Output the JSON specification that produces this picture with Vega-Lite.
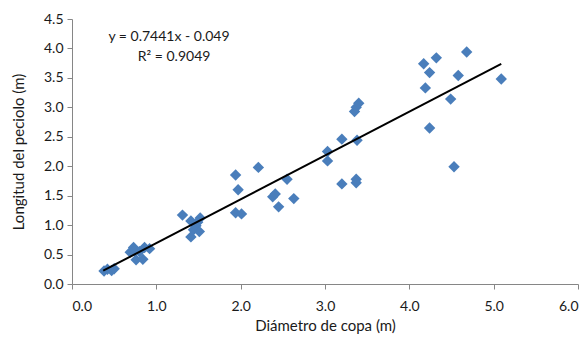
{
  "$schema": "https://vega.github.io/schema/vega-lite/v6.json",
  "width": 580,
  "height": 341,
  "autosize": {"type": "fit", "contains": "padding"},
  "padding": {"left": 11, "top": 12, "right": 1, "bottom": 8},
  "background": "white",
  "config": {
    "view": {"stroke": null},
    "font": "Lato",
    "axis": {
      "domainColor": "#868686",
      "tickColor": "#868686",
      "labelColor": "#1a1a1a",
      "titleColor": "#1a1a1a",
      "labelFont": "Lato",
      "titleFont": "Lato",
      "labelFontSize": 14,
      "titleFontSize": 15,
      "titleFontWeight": "normal",
      "grid": false,
      "tickSize": 5,
      "labelOverlap": false
    }
  },
  "datasets": {
    "pts": [
      {"d": 0.38, "l": 0.22}, {"d": 0.42, "l": 0.25}, {"d": 0.47, "l": 0.23}, {"d": 0.50, "l": 0.26},
      {"d": 0.69, "l": 0.54}, {"d": 0.73, "l": 0.62}, {"d": 0.74, "l": 0.57}, {"d": 0.76, "l": 0.41},
      {"d": 0.80, "l": 0.55}, {"d": 0.84, "l": 0.42}, {"d": 0.86, "l": 0.62}, {"d": 0.92, "l": 0.60},
      {"d": 1.31, "l": 1.17}, {"d": 1.41, "l": 0.80}, {"d": 1.41, "l": 1.07}, {"d": 1.44, "l": 0.92},
      {"d": 1.47, "l": 0.99}, {"d": 1.51, "l": 0.89}, {"d": 1.52, "l": 1.12}, {"d": 1.49, "l": 1.05},
      {"d": 1.94, "l": 1.85}, {"d": 1.97, "l": 1.60}, {"d": 1.94, "l": 1.21}, {"d": 2.01, "l": 1.19},
      {"d": 2.21, "l": 1.98}, {"d": 2.38, "l": 1.48}, {"d": 2.41, "l": 1.53}, {"d": 2.45, "l": 1.31},
      {"d": 2.55, "l": 1.78}, {"d": 2.63, "l": 1.45}, {"d": 3.03, "l": 2.25}, {"d": 3.03, "l": 2.09},
      {"d": 3.20, "l": 2.46}, {"d": 3.20, "l": 1.70}, {"d": 3.37, "l": 1.78}, {"d": 3.37, "l": 1.72},
      {"d": 3.38, "l": 2.44}, {"d": 3.35, "l": 2.93}, {"d": 3.37, "l": 3.00}, {"d": 3.40, "l": 3.07},
      {"d": 4.17, "l": 3.74}, {"d": 4.32, "l": 3.84}, {"d": 4.68, "l": 3.94}, {"d": 4.24, "l": 3.59},
      {"d": 4.58, "l": 3.54}, {"d": 4.19, "l": 3.33}, {"d": 5.09, "l": 3.48}, {"d": 4.49, "l": 3.14},
      {"d": 4.24, "l": 2.65}, {"d": 4.53, "l": 1.99}
    ],
    "trend": [
      {"d": 0.37, "l": 0.226},
      {"d": 5.09, "l": 3.739}
    ],
    "labels": [
      {"d": 1.15, "l": 4.20, "t": "y = 0.7441x - 0.049"},
      {"d": 1.21, "l": 3.86, "t": "R² = 0.9049"}
    ]
  },
  "encoding": {
    "x": {
      "field": "d", "type": "quantitative",
      "scale": {"domain": [0, 6], "nice": false, "zero": true},
      "axis": {"values": [0, 1, 2, 3, 4, 5, 6], "format": ".1f", "title": "Diámetro  de copa (m)", "titlePadding": 5, "labelPadding": 10, "labelOverlap": false}
    },
    "y": {
      "field": "l", "type": "quantitative",
      "scale": {"domain": [0, 4.5], "nice": false},
      "axis": {"values": [0, 0.5, 1, 1.5, 2, 2.5, 3, 3.5, 4, 4.5], "tickCount": 10, "format": ".1f", "title": "Longitud del peciolo (m)", "titlePadding": 17, "labelPadding": 4, "labelOverlap": false, "labelBound": false, "labelFlush": false}
    }
  },
  "layer": [
    {
      "data": {"name": "pts"},
      "mark": {"type": "point", "shape": "diamond", "filled": true, "size": 130, "color": "#4a7ebb", "opacity": 1}
    },
    {
      "data": {"name": "trend"},
      "mark": {"type": "line", "color": "black", "strokeWidth": 2}
    },
    {
      "data": {"name": "labels"},
      "mark": {"type": "text", "fontSize": 14, "font": "Lato", "color": "#1a1a1a", "align": "center", "baseline": "middle"},
      "encoding": {
        "text": {"field": "t"}
      }
    }
  ]
}
